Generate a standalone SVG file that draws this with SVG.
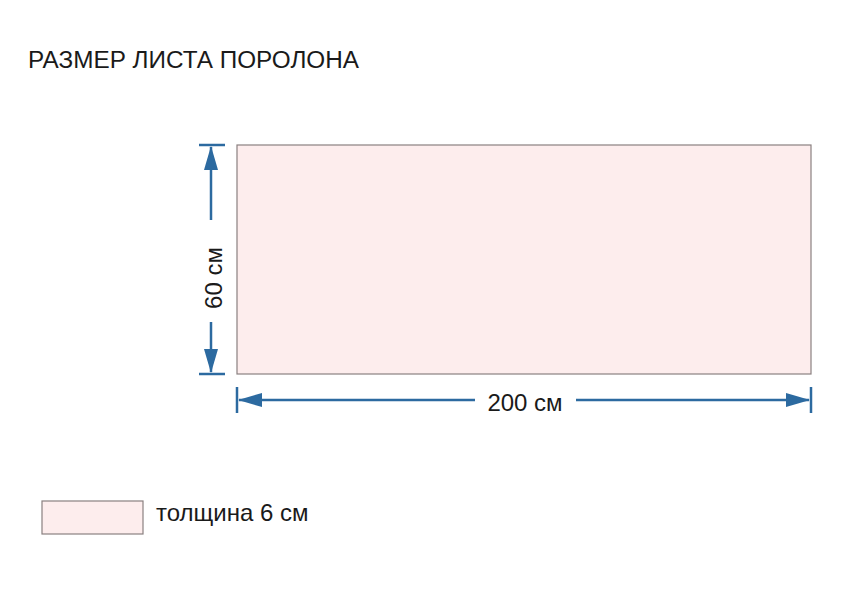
<svg xmlns="http://www.w3.org/2000/svg" width="855" height="600" viewBox="0 0 855 600">
<style>
.t{font-family:"Liberation Sans",Arial,sans-serif;fill:#1a1a1a}
.sheet{fill:#fdeded;stroke:#8a8080;stroke-width:1.2}
.dim{stroke:#2c6aa0;stroke-width:2.5;fill:none}
</style>
<rect width="855" height="600" fill="#fff"/>
<text class="t" x="28" y="68" font-size="24.3">РАЗМЕР ЛИСТА ПОРОЛОНА</text>
<g id="sheet"><rect class="sheet" x="237" y="145" width="574" height="229"/></g>
<g id="connectors">
<line class="dim" x1="199" y1="145" x2="225" y2="145"/>
<line class="dim" x1="199" y1="374" x2="225" y2="374"/>
<line class="dim" x1="211" y1="220" x2="211" y2="147"/>
<path d="M204,170 L211,146 L218,170 z" fill="#2c6aa0"/>
<line class="dim" x1="211" y1="322" x2="211" y2="372"/>
<path d="M204,349 L211,373 L218,349 z" fill="#2c6aa0"/>
<line class="dim" x1="237" y1="387" x2="237" y2="413"/>
<line class="dim" x1="811" y1="387" x2="811" y2="413"/>
<line class="dim" x1="239" y1="400" x2="475" y2="400"/>
<path d="M262,393 L238,400 L262,407 z" fill="#2c6aa0"/>
<line class="dim" x1="576" y1="400" x2="809" y2="400"/>
<path d="M786,393 L810,400 L786,407 z" fill="#2c6aa0"/>
</g>
<text class="t" x="525" y="411" font-size="24" text-anchor="middle">200 см</text>
<text class="t" font-size="24" text-anchor="middle" transform="translate(222,278) rotate(-90)">60 см</text>
<g id="legend">
<rect class="sheet" x="42" y="501" width="101" height="33"/>
<text class="t" x="156" y="521" font-size="24">толщина 6 см</text>
</g>
</svg>
